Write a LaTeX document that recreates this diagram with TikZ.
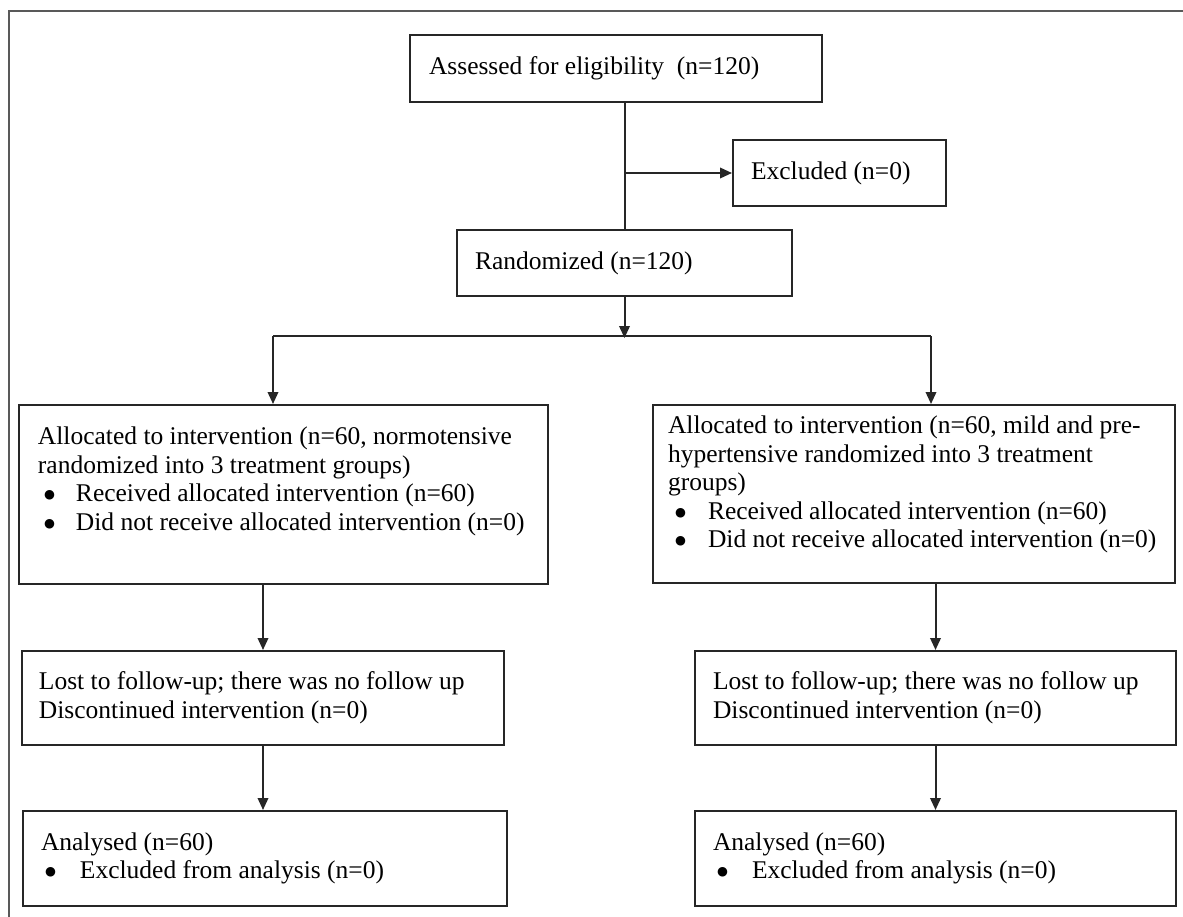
\documentclass[tikz,border=0pt]{standalone}
\usepackage{fontspec}
\setmainfont{Liberation Serif}
\newfontfamily\symfont{DejaVu Sans}
\usetikzlibrary{arrows.meta,calc}
% width, height, inner-pos, left pad, baselineskip, content
\newcommand\bxt[6]{\parbox[c][#2pt][#3]{#1pt}{\fontsize{25.5}{#5}\selectfont\raggedright\leftskip=#4pt\relax\parindent=0pt\relax #6}}
\newcommand\itm[2]{\makebox[#2pt][l]{\hspace*{#1pt}\raisebox{3.2pt}{\symfont\fontsize{12.5}{12.5}\selectfont ●}}}
\tikzset{
  box/.style={draw=black!85, line width=2pt, inner sep=0pt, fill=white, anchor=north west},
  arr/.style={draw=black!85, line width=2pt, -{Triangle[length=12pt,width=10.5pt]}},
  ln/.style={draw=black!85, line width=2pt},
  frameline/.style={draw=black!65, line width=2.8pt}
}
\begin{document}
\begin{tikzpicture}[x=1pt,y=1pt]
\fill[white] (0,0) rectangle (1183,-916);
\useasboundingbox (0,0) rectangle (1183,-916);
\draw[frameline] (9,-920) -- (9,-11) -- (1190,-11);

\node[box] (assess) at (409,-34) {\bxt{412}{67}{c}{19}{28.5}{Assessed for eligibility\ \ (n=120)}};
\node[box] (excl) at (732,-139) {\bxt{213}{66}{c}{18}{28.5}{Excluded (n=0)}};
\node[box] (rand) at (456,-229) {\bxt{335}{66}{c}{18}{28.5}{Randomized (n=120)}};

\node[box] (la) at (18,-404) {\bxt{529}{179}{t}{19}{28.5}{\vspace*{22pt}Allocated to intervention (n=60, normotensive\\randomized into 3 treatment groups)\\\itm{6}{38}Received allocated intervention (n=60)\\\itm{6}{38}Did not receive allocated intervention (n=0)}};
\node[box] (ra) at (652,-404) {\bxt{522}{178}{t}{15}{28.5}{\vspace*{11pt}Allocated to intervention (n=60, mild and pre-\\hypertensive randomized into 3 treatment\\groups)\\\itm{7}{40}Received allocated intervention (n=60)\\\itm{7}{40}Did not receive allocated intervention (n=0)}};

\node[box] (ll) at (21,-650) {\bxt{482}{94}{c}{17}{29}{Lost to follow-up; there was no follow up\\Discontinued intervention (n=0)}};
\node[box] (rl) at (694,-650) {\bxt{481}{94}{c}{18}{29}{Lost to follow-up; there was no follow up\\Discontinued intervention (n=0)}};

\node[box] (lan) at (22,-810) {\bxt{484}{95}{c}{18}{28.5}{Analysed (n=60)\\\itm{4}{39}Excluded from analysis (n=0)}};
\node[box] (ran) at (694,-810) {\bxt{481}{95}{c}{18}{28.5}{Analysed (n=60)\\\itm{4}{39}Excluded from analysis (n=0)}};

% connectors
\draw[ln] (rand.north |- assess.south) -- (rand.north);
\coordinate (br) at (rand.north |- excl.west);
\draw[arr] (br) -- (excl.west);
\coordinate (split) at ($(rand.south)+(0,-41)$);
\draw[arr] (rand.south) -- (split);
\coordinate (sl) at (273,-336);
\coordinate (sr) at (931,-336);
\draw[ln] (sl) -- (sr);
\draw[arr] (sl) -- (sl |- la.north);
\draw[arr] (sr) -- (sr |- ra.north);
\draw[arr] (ll.north |- la.south) -- (ll.north);
\draw[arr] (rl.north |- ra.south) -- (rl.north);
\draw[arr] (ll.south) -- (ll.south |- lan.north);
\draw[arr] (rl.south) -- (rl.south |- ran.north);
\end{tikzpicture}
\end{document}
